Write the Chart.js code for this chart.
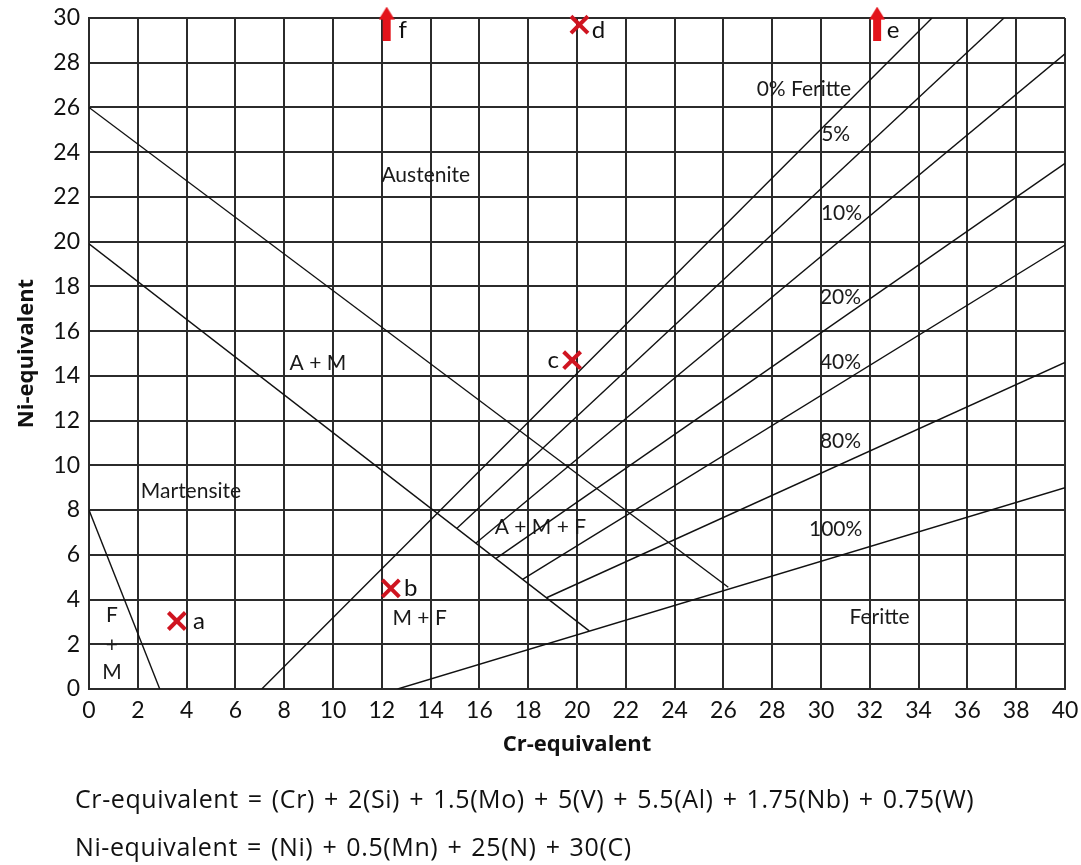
<!DOCTYPE html>
<html>
<head>
<meta charset="utf-8">
<title>Schaeffler diagram</title>
<script src="https://cdn.jsdelivr.net/npm/chart.js@4.4.0/dist/chart.umd.min.js"></script>
<style>
  html, body { margin: 0; padding: 0; background: #fff; }
  #wrap { position: relative; width: 1081px; height: 865px; }
  #diagram { position: absolute; left: 0; top: 0; }
  .formula { position: absolute; left: 75px; font-family: "Open Sans", sans-serif; font-size: 25px; color: #111; white-space: nowrap; letter-spacing: 0.6px; word-spacing: 2px; }
</style>
</head>
<body>
<div id="wrap">
  <canvas id="diagram" width="1081" height="865"></canvas>
  <div class="formula" style="top:781px">Cr-equivalent = (Cr) + 2(Si) + 1.5(Mo) + 5(V) + 5.5(Al) + 1.75(Nb) + 0.75(W)</div>
  <div class="formula" style="top:829px">Ni-equivalent = (Ni) + 0.5(Mn) + 25(N) + 30(C)</div>
</div>
<script>
// axis ticks
const crTicks = [0, 2, 4, 6, 8, 10, 12, 14, 16, 18, 20, 22, 24, 26, 28, 30, 32, 34, 36, 38, 40];
const niTicks = [0, 2, 4, 6, 8, 10, 12, 14, 16, 18, 20, 22, 24, 26, 28, 30];

// phase boundaries, [Cr-eq, Ni-eq] end points
const austeniteBoundary = [[0, 26], [26.2, 4.55]];
const martensiteBoundary = [[0, 19.9], [20.5, 2.6]];
const ferriteMartensiteBoundary = [[0, 8], [2.9, 0]];

// constant ferrite content lines
const ferriteLevels = ['0%', '5%', '10%', '20%', '40%', '80%', '100%'];
const ferriteLines = [
  [[7.08, 0], [34.55, 30]],
  [[15.07, 7.18], [37.5, 30]],
  [[15.85, 6.52], [40, 28.4]],
  [[16.67, 5.83], [40, 23.5]],
  [[17.77, 4.9], [40, 19.85]],
  [[18.75, 4.08], [40, 14.6]],
  [[12.65, 0], [40, 9.0]]
];

// weld samples
const sampleNames = ['a', 'b', 'c', 'd'];
const sampleCr = [3.6, 12.37, 19.8, 20.1];
const sampleNi = [3.04, 4.5, 14.7, 29.7];

// samples whose Ni-eq runs off the top of the diagram
const offScaleNames = ['f', 'e'];
const offScaleCr = [12.2, 32.3];
const offScaleNi = [29.75, 29.75];

// region names
const regionText = ['Austenite', 'A + M', 'Martensite', 'F', '+', 'M', 'M + F', 'A + M + F',
  '0% Feritte', '5%', '10%', '20%', '40%', '80%', '100%', 'Feritte'];
const regionCr = [13.8, 9.38, 4.18, 0.94, 0.94, 0.94, 13.55, 18.5, 29.3, 30.6, 30.84, 30.8, 30.8, 30.8, 30.6, 32.4];
const regionNi = [22.98, 14.57, 8.85, 3.3, 1.97, 0.76, 3.17, 7.24, 26.82, 24.8, 21.28, 17.52, 14.62, 11.09, 7.15, 3.22];

const gridColor = '#2b2b2b';
const lineColor = '#111';
const crossRed = '#cf1420';
const arrowRed = '#e3141b';

function toPoints(pairs) {
  return pairs.map(([x, y]) => ({ x: x, y: y }));
}

function makeArrow() {
  const c = document.createElement('canvas');
  c.width = 16;
  c.height = 34;
  const g = c.getContext('2d');
  g.fillStyle = arrowRed;
  g.beginPath();
  g.moveTo(8, 0);
  g.lineTo(16, 13);
  g.lineTo(12, 13);
  g.lineTo(12, 34);
  g.lineTo(4, 34);
  g.lineTo(4, 13);
  g.lineTo(0, 13);
  g.closePath();
  g.fill();
  return c;
}

// keep the plot box where the layout padding puts it
function noScalePadding(s) {
  s.paddingTop = 0;
  s.paddingBottom = 0;
  s.paddingLeft = 0;
  s.paddingRight = 0;
}

const boundaryStyle = { showLine: true, borderColor: lineColor, borderWidth: 1.4, pointRadius: 0, pointHoverRadius: 0 };

const datasets = [
  {
    label: 'samples',
    data: sampleCr.map((x, i) => ({ x: x, y: sampleNi[i] })),
    pointStyle: 'crossRot',
    pointRadius: 12,
    pointHoverRadius: 12,
    borderColor: crossRed,
    borderWidth: 4,
    showLine: false,
    clip: false
  },
  {
    label: 'off scale',
    data: offScaleCr.map((x, i) => ({ x: x, y: offScaleNi[i] })),
    pointStyle: makeArrow(),
    showLine: false,
    clip: false
  },
  Object.assign({ label: 'A / A+M', data: toPoints(austeniteBoundary) }, boundaryStyle),
  Object.assign({ label: 'A+M / M', data: toPoints(martensiteBoundary) }, boundaryStyle),
  Object.assign({ label: 'M / F+M', data: toPoints(ferriteMartensiteBoundary) }, boundaryStyle)
];
ferriteLines.forEach((pts, i) => {
  datasets.push(Object.assign({ label: ferriteLevels[i] + ' ferrite', data: toPoints(pts) }, boundaryStyle));
});

// region names under the lines, sample letters on top
const diagramText = {
  id: 'diagramText',
  beforeDatasetsDraw(chart) {
    const { ctx, scales: { x, y } } = chart;
    ctx.save();
    ctx.fillStyle = '#1a1a1a';
    ctx.font = '21px Lato, sans-serif';
    ctx.textAlign = 'center';
    ctx.textBaseline = 'middle';
    regionText.forEach((t, i) => {
      ctx.fillText(t, x.getPixelForValue(regionCr[i]), y.getPixelForValue(regionNi[i]));
    });
    ctx.restore();
  },
  afterDatasetsDraw(chart) {
    const { ctx, scales: { x, y } } = chart;
    ctx.save();
    ctx.fillStyle = '#111';
    ctx.font = '24px Lato, sans-serif';
    ctx.textAlign = 'center';
    ctx.textBaseline = 'middle';
    const nudge = { a: [22, 0], b: [20, 0], c: [-19, 0], d: [19, 6] };
    sampleNames.forEach((n, i) => {
      const [dx, dy] = nudge[n];
      ctx.fillText(n, x.getPixelForValue(sampleCr[i]) + dx, y.getPixelForValue(sampleNi[i]) + dy);
    });
    offScaleNames.forEach((n, i) => {
      ctx.fillText(n, x.getPixelForValue(offScaleCr[i]) + 16, y.getPixelForValue(offScaleNi[i]) + 7);
    });
    ctx.restore();
  }
};

const tickFont = { family: 'Lato, sans-serif', size: 23 };
const titleFont = { family: '"Open Sans", sans-serif', size: 22, weight: 'bold' };

new Chart(document.getElementById('diagram'), {
  type: 'scatter',
  data: { datasets: datasets },
  options: {
    responsive: false,
    animation: false,
    events: [],
    layout: { padding: { top: 18, right: 15, bottom: 0, left: 0 } },
    plugins: {
      legend: { display: false },
      tooltip: { enabled: false }
    },
    scales: {
      x: {
        type: 'linear',
        min: 0,
        max: 40,
        afterBuildTicks: s => { s.ticks = crTicks.map(v => ({ value: v })); },
        afterFit: s => { s.height = 176; noScalePadding(s); },
        grid: { color: gridColor, lineWidth: 2, drawTicks: false },
        border: { color: gridColor, width: 2 },
        ticks: { padding: 8, color: '#111', font: tickFont, maxRotation: 0, autoSkip: false },
        title: { display: true, text: 'Cr-equivalent', color: '#111', font: titleFont, padding: { top: 0, bottom: 107 } }
      },
      y: {
        type: 'linear',
        min: 0,
        max: 30,
        afterBuildTicks: s => { s.ticks = niTicks.map(v => ({ value: v })); },
        afterFit: s => { s.width = 89; noScalePadding(s); },
        grid: { color: gridColor, lineWidth: 2, drawTicks: false },
        border: { color: gridColor, width: 2 },
        ticks: { padding: 9, color: '#111', font: tickFont, autoSkip: false },
        title: { display: true, text: 'Ni-equivalent', color: '#111', font: titleFont, padding: { top: 14, bottom: 0 } }
      }
    }
  },
  plugins: [diagramText]
});
</script>
</body>
</html>
